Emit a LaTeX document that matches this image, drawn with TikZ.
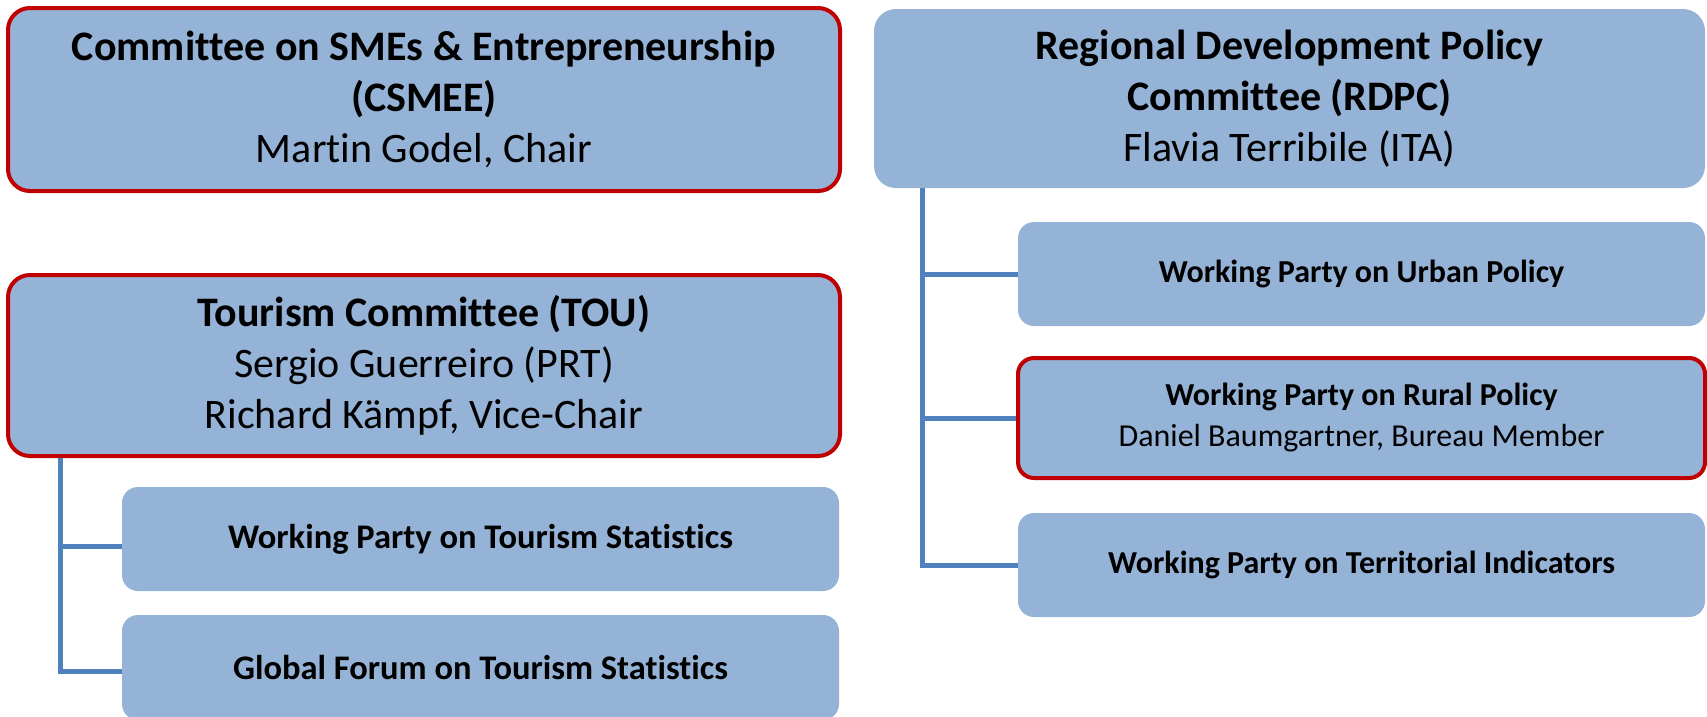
\documentclass[tikz,border=0pt]{standalone}
\usepackage{fontspec}
\setmainfont[Ligatures=NoCommon]{Carlito}
\definecolor{boxfill}{HTML}{95B3D7}
\definecolor{redline}{HTML}{C00000}
\definecolor{connblue}{HTML}{4F81BD}
\tikzset{
  bigbox/.style={rectangle, rounded corners=22pt, fill=boxfill, align=center, inner sep=0pt,
    font=\fontsize{42}{51}\selectfont},
  subbox/.style={rectangle, rounded corners=16pt, fill=boxfill, align=center, inner sep=0pt,
    font=\fontsize{32}{41}\selectfont\bfseries},
  leftsub/.style={subbox, font=\fontsize{34.5}{41}\selectfont\bfseries},
  redframe/.style={draw=redline, line width=4pt},
  conn/.style={draw=connblue, line width=5pt}
}
\begin{document}
\begin{tikzpicture}[x=1pt,y=-1pt]
\useasboundingbox (0,0) rectangle (1707,716);
\node[bigbox, redframe, minimum width=832pt, minimum height=183pt] (csmee) at (424,99.5)
  {\textbf{Committee on SMEs \& Entrepreneurship}\\\textbf{(CSMEE)}\\Martin Godel, Chair};
\node[bigbox, minimum width=831pt, minimum height=179pt] (rdpc) at (1289.5,98.5)
  {\textbf{Regional Development Policy}\\\textbf{Committee (RDPC)}\\Flavia Terribile (ITA)};
\node[bigbox, redframe, minimum width=832pt, minimum height=181pt] (tou) at (424,365.5)
  {\textbf{Tourism Committee (TOU)}\\Sergio Guerreiro (PRT)\\Richard Kämpf, Vice-Chair};
\node[leftsub, minimum width=717pt, minimum height=104pt] (wpts) at (480.5,539)
  {Working Party on Tourism Statistics};
\node[leftsub, minimum width=717pt, minimum height=105pt] (gfts) at (480.5,667.5)
  {Global Forum on Tourism Statistics};
\node[subbox, minimum width=687pt, minimum height=104pt] (urban) at (1361.5,274)
  {Working Party on Urban Policy};
\node[subbox, redframe, minimum width=687pt, minimum height=120pt] (rural) at (1361.5,418)
  {Working Party on Rural Policy\\\mdseries Daniel Baumgartner, Bureau Member};
\node[subbox, minimum width=687pt, minimum height=104pt] (terr) at (1361.5,565)
  {Working Party on Territorial Indicators};
% connectors
\coordinate (ltop) at ([xshift=54pt]tou.south west);
\coordinate (rtop) at ([xshift=49pt]rdpc.south west);
\draw[conn] (ltop) |- ([yshift=-7pt]wpts.west);
\draw[conn] (ltop) |- ([yshift=-4pt]gfts.west);
\draw[conn] (rtop) |- (urban.west);
\draw[conn] (rtop) |- (rural.west);
\draw[conn] (rtop) |- (terr.west);
\end{tikzpicture}
\end{document}
